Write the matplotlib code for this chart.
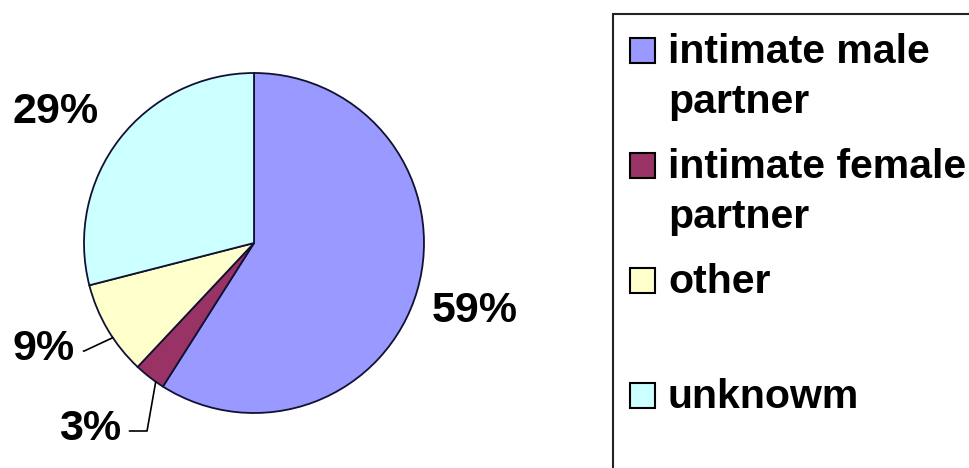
import numpy as np
import matplotlib.pyplot as plt
from matplotlib.patches import Rectangle

# datos del grafico
categorias = ["intimate male\npartner", "intimate female\npartner", "other", "unknowm"]
porcentajes = [59, 3, 9, 29]
colores = ["#9999FF", "#993366", "#FFFFCC", "#CCFFFF"]
etiquetas = ["59%", "3%", "9%", "29%"]

W, H = 969, 468
fig = plt.figure(figsize=(W / 100, H / 100), dpi=100)
fig.patch.set_facecolor("white")

# pastel: centro (254, 243) px, radio 170 px
cx, cy, r = 254, 243, 170
ax = fig.add_axes([(cx - r) / W, (H - cy - r) / H, 2 * r / W, 2 * r / H])
wedges, _ = ax.pie(porcentajes, colors=colores, startangle=90, counterclock=False,
                   wedgeprops=dict(edgecolor="#111133", linewidth=1.3))
for w in wedges:
    w.set_clip_on(False)
ax.set_xlim(-1, 1)
ax.set_ylim(-1, 1)
ax.set_aspect("equal")
ax.axis("off")

# posicion de las etiquetas (px, linea base), punto de la guia sobre el borde y estilo
pos_etiquetas = [(475, 322), (90, 440), (44, 360), (56, 123)]
frac_guia = [0.5, 0.73, 0.6, 0.5]
guia = [None, "angle,angleA=0,angleB=80,rad=0", "angle,angleA=0,angleB=25,rad=0", None]

for w, txt, (px, py), fr, cs in zip(wedges, etiquetas, pos_etiquetas, frac_guia, guia):
    ang = np.deg2rad(w.theta1 + fr * (w.theta2 - w.theta1))
    borde = (np.cos(ang), np.sin(ang))
    xt = ((px - cx) / r, (cy - py) / r)
    if cs is None:
        ax.text(xt[0], xt[1], txt, ha="center", va="baseline", fontsize=31,
                fontweight="bold", family="Liberation Sans", clip_on=False)
    else:
        ax.annotate(txt, xy=borde, xytext=xt, ha="center", va="baseline", fontsize=31,
                    fontweight="bold", family="Liberation Sans", annotation_clip=False,
                    arrowprops=dict(arrowstyle="-", color="black", lw=1.2,
                                    connectionstyle=cs, relpos=(1, 0.45),
                                    shrinkA=4, shrinkB=0))

# leyenda dibujada a mano (recortada por el borde derecho e inferior)
fig.patches.append(Rectangle((613 / W, -0.1), 0.5, 1 - 14 / H + 0.1,
                             transform=fig.transFigure, fill=False,
                             edgecolor="#222222", linewidth=1.5))
for i, (cat, col) in enumerate(zip(categorias, colores)):
    top = 38 + 115 * i
    fig.patches.append(Rectangle((630 / W, 1 - (top + 25) / H), 25 / W, 25 / H,
                                 transform=fig.transFigure, facecolor=col,
                                 edgecolor="black", linewidth=1.5))
    for j, linea in enumerate(cat.split("\n")):
        fig.text(668 / W, 1 - (top + 25 + 50 * j) / H, linea, ha="left", va="baseline",
                 fontsize=29.5, fontweight="bold", family="Liberation Sans")

plt.savefig("out.png", dpi=100)
